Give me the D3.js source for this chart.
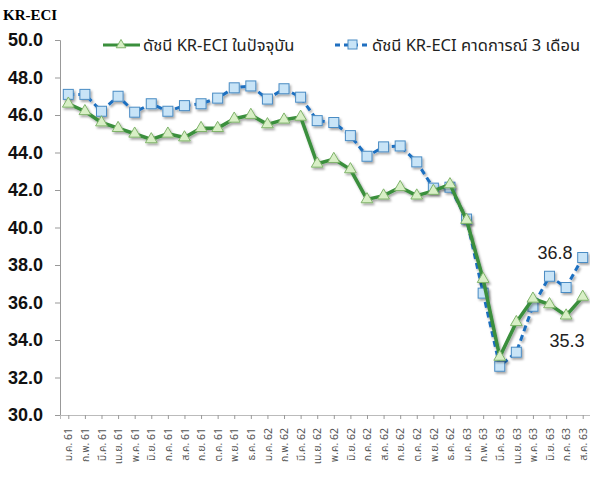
<!DOCTYPE html>
<html lang="th">
  <head>
    <meta charset="utf-8">
    <script src="https://d3js.org/d3.v7.min.js"></script>
    <title>KR-ECI</title>
  </head>
  <body style="margin:0;background:#fff">
    <style>
      .ytick text{font-family:Arial,"Liberation Sans",sans-serif;font-weight:bold;font-size:18px;fill:#111;}
      .xtick text{font-family:"Noto Sans","Noto Sans Thai",sans-serif;font-size:10.5px;fill:#555;}
      .legend text{font-family:"Noto Sans","Noto Sans Thai",sans-serif;font-size:16.5px;fill:#222;}
    </style>
    <script>

      // data
      var months = ["ม.ค. 61","ก.พ. 61","มี.ค. 61","เม.ย. 61","พ.ค. 61","มิ.ย. 61","ก.ค. 61","ส.ค. 61","ก.ย. 61","ต.ค. 61","พ.ย. 61","ธ.ค. 61",
                    "ม.ค. 62","ก.พ. 62","มี.ค. 62","เม.ย. 62","พ.ค. 62","มิ.ย. 62","ก.ค. 62","ส.ค. 62","ก.ย. 62","ต.ค. 62","พ.ย. 62","ธ.ค. 62",
                    "ม.ค. 63","ก.พ. 63","มี.ค. 63","เม.ย. 63","พ.ค. 63","มิ.ย. 63","ก.ค. 63","ส.ค. 63"];
      var current = [46.6,46.2,45.6,45.3,45.0,44.7,45.0,44.8,45.3,45.3,45.8,46.0,
                     45.5,45.75,45.9,43.4,43.65,43.1,41.5,41.7,42.15,41.7,41.95,42.3,
                     40.4,37.25,33.1,34.95,36.2,35.9,35.3,36.3];
      var expected = [47.1,47.1,46.2,47.0,46.15,46.6,46.2,46.5,46.6,46.9,47.45,47.55,
                      46.85,47.4,46.95,45.7,45.6,44.9,43.8,44.3,44.35,43.5,42.1,42.15,
                      40.45,36.5,32.6,33.35,35.8,37.4,36.8,38.4];
      var yTicks = [30,32,34,36,38,40,42,44,46,48,50];
      var seriesNames = ["ดัชนี KR-ECI ในปัจจุบัน","ดัชนี KR-ECI คาดการณ์ 3 เดือน"];
      var callouts = [{v:36.8, s:1, i:30}, {v:35.3, s:0, i:30}];

      var width=590, height=479;
      var svg=d3.select("body").append("svg").attr("width",width).attr("height",height);

      var defs=svg.append("defs");
      var f=defs.append("filter").attr("id","shadow").attr("x","-20%").attr("y","-20%").attr("width","140%").attr("height","140%");
      f.append("feDropShadow").attr("dx",1.5).attr("dy",2).attr("stdDeviation",1.2).attr("flood-color","#000").attr("flood-opacity",0.35);

      var x=d3.scalePoint().domain(months).range([60,591]).padding(0.5);
      var y=d3.scaleLinear().domain([30,50]).range([415,40]);

      // y axis
      var yAxis=d3.axisLeft(y).tickValues(yTicks).tickFormat(d3.format(".1f")).tickSize(5).tickPadding(12);
      var gy=svg.append("g").attr("class","ytick").attr("transform","translate(60,0)").call(yAxis);
      gy.selectAll("path,line").attr("stroke","#999");

      // x axis
      var xAxis=d3.axisBottom(x).tickSize(4).tickPadding(6);
      var gx=svg.append("g").attr("class","xtick").attr("transform","translate(0,415)").call(xAxis);
      gx.select("path.domain").attr("stroke","#bbb");
      gx.selectAll("line").attr("stroke","#999");
      gx.selectAll("text").attr("transform","rotate(-90)").attr("text-anchor","end")
        .attr("x",-13).attr("y",0).attr("dy","0.35em");

      // title
      svg.append("text").attr("x",3).attr("y",20).text("KR-ECI")
        .style("font-family","'Liberation Serif',serif").style("font-weight","bold").style("font-size","15px");

      var line=d3.line().x(function(d,i){return x(months[i]);}).y(function(d){return y(d);});

      // expected series (blue dashed)
      var gb=svg.append("g").attr("filter","url(#shadow)");
      gb.append("path").datum(expected).attr("d",line).attr("fill","none")
        .attr("stroke","#1f6fc0").attr("stroke-width",3).attr("stroke-dasharray","6,4");

      // current series (green)
      var gg=svg.append("g").attr("filter","url(#shadow)");
      gg.append("path").datum(current).attr("d",line).attr("fill","none")
        .attr("stroke","#3a8f3c").attr("stroke-width",3.5).attr("stroke-linejoin","round");

      var tri=d3.symbol().type(d3.symbolTriangle).size(60);
      gg.selectAll("path.tri").data(current).enter().append("path").attr("class","tri")
        .attr("d",tri).attr("transform",function(d,i){return "translate("+x(months[i])+","+y(d)+")";})
        .attr("fill","#d8efc6").attr("stroke","#7fb36a").attr("stroke-width",1);

      gb.selectAll("rect").data(expected).enter().append("rect")
        .attr("x",function(d,i){return x(months[i])-5;}).attr("y",function(d){return y(d)-5;})
        .attr("width",10).attr("height",10)
        .attr("fill","#c8e4f7").attr("stroke","#4a8cc4").attr("stroke-width",1);

      // callouts
      svg.selectAll("text.call").data(callouts).enter().append("text").attr("class","call")
        .attr("x",function(d){return x(months[d.i])+(d.s==1?-11:1);})
        .attr("y",function(d){return d.s==1?y(d.v)-29:y(d.v)+31;})
        .attr("text-anchor","middle")
        .style("font-family","Arial,'Liberation Sans',sans-serif").style("font-size","18px").style("fill","#222")
        .text(function(d){return d.v.toFixed(1);});

      // legend
      var lg=svg.append("g").attr("class","legend");
      lg.append("line").attr("x1",103).attr("x2",140).attr("y1",45).attr("y2",45).attr("stroke","#3a8f3c").attr("stroke-width",3);
      lg.append("path").attr("d",d3.symbol().type(d3.symbolTriangle).size(40)).attr("transform","translate(121,45)")
        .attr("fill","#d8efc6").attr("stroke","#7fb36a");
      lg.append("text").attr("x",143).attr("y",51).text(seriesNames[0]);
      lg.append("line").attr("x1",335).attr("x2",370).attr("y1",45).attr("y2",45).attr("stroke","#1f6fc0").attr("stroke-width",3).attr("stroke-dasharray","5,4");
      lg.append("rect").attr("x",348).attr("y",40).attr("width",9).attr("height",9).attr("fill","#c8e4f7").attr("stroke","#4a8cc4");
      lg.append("text").attr("x",372).attr("y",51).text(seriesNames[1]);

    </script>
  </body>
</html>
